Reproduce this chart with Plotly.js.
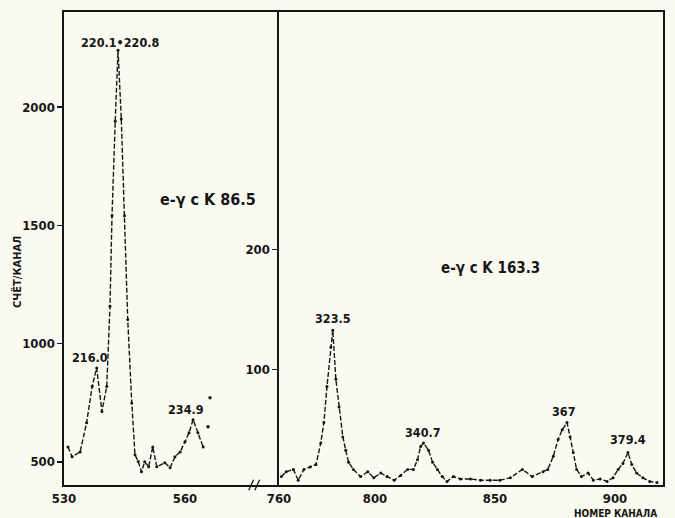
<!DOCTYPE html>
<html>
<head>
<meta charset="utf-8">
<script src="https://cdn.plot.ly/plotly-3.0.1.min.js"></script>
<style>
html,body{margin:0;padding:0;background:#fbfaf1;}
#chart{width:675px;height:518px;}
</style>
</head>
<body>
<div id="chart"></div>
<script>
// ---- data ----
// left panel: e-γ coincidence with K 86.5
const leftX = [531, 532, 534, 535.6, 537, 538.1, 539.4, 540.6, 541.4, 541.9, 542.7, 543.4, 544.2, 545.0, 545.8, 546.8, 547.6, 548.4, 549.2, 550, 551, 552, 553, 555, 556.3, 557.5, 558.8, 560, 561, 562, 563.2, 564.5];
const leftY = [563, 521, 542, 665, 820, 897, 713, 819, 1158, 1540, 1940, 2240, 1950, 1540, 1102, 749, 530, 501, 458, 500, 479, 563, 479, 496, 475, 521, 542, 585, 623, 678, 623, 563];
const leftStrayX = [565.7, 566.2];
const leftStrayY = [648, 771];

// right panel: e-γ coincidence with K 163.3
const rightX = [761, 763, 766, 768, 770.4, 773, 775.4, 777.4, 778.7, 780, 781.6, 782.4, 783.7, 785, 786.6, 787.8, 789, 791, 794, 797, 799.5, 802.4, 805, 808, 810.7, 813.6, 816, 817.7, 819, 820.2, 822.3, 824, 826, 828, 830, 832.7, 835.6, 839.8, 844, 848, 852, 856.4, 861.4, 865.5, 870, 872, 874.3, 876.3, 878, 880, 881.3, 882.6, 884, 886, 888.8, 891, 893.8, 896.7, 899.2, 901.3, 903.3, 905.4, 907, 909, 911.6, 914.5, 917.5];
const rightY = [11, 15, 17, 8, 17, 19, 21, 39, 56, 86, 119, 133, 92, 69, 44, 33, 23, 17, 11, 15, 10, 14, 11, 8, 12, 17, 17, 25, 36, 39, 33, 23, 17, 11, 7, 11, 9, 9, 8, 8, 8, 10, 17, 11, 15, 17, 28, 42, 50, 56, 44, 31, 17, 11, 14, 8, 9, 7, 10, 17, 22, 31, 21, 14, 10, 7, 6];

// peak labels (energies, keV)
const leftPeakLabels = ["220.1•220.8", "216.0", "234.9"];
const leftPeakX = [543.9, 536.5, 560.2];
const leftPeakY = [2275, 941, 720];
const rightPeakLabels = ["323.5", "340.7", "367", "379.4"];
const rightPeakX = [782.4, 820.0, 878.7, 905.4];
const rightPeakY = [143, 48, 65, 42];

const leftTicksX = [530, 560];
const rightTicksX = [760, 800, 850, 900];
const leftTicksY = [500, 1000, 1500, 2000];
const rightTicksY = [100, 200];

const gateLeft = "e-γ c K 86.5";
const gateRight = "e-γ c K 163.3";
const yTitle = "СЧЁТ/КАНАЛ";
const xTitle = "НОМЕР КАНАЛА";

// ---- styling ----
const FONT = "Liberation Sans Narrow, DejaVu Sans Condensed, Arial Narrow, sans-serif";
const INK = "#161616";
const BG = "#fbfaf1";

const lineStyle = {color: INK, width: 1.4, dash: "5px,2px"};
const markerStyle = {color: INK, size: 3};

const traces = [
  {x: leftX, y: leftY, xaxis: "x", yaxis: "y", mode: "lines+markers", line: lineStyle, marker: markerStyle, hoverinfo: "skip"},
  {x: leftStrayX, y: leftStrayY, xaxis: "x", yaxis: "y", mode: "markers", marker: {color: INK, size: 3.5}, hoverinfo: "skip"},
  {x: rightX, y: rightY, xaxis: "x2", yaxis: "y2", mode: "lines+markers", line: lineStyle, marker: markerStyle, hoverinfo: "skip"}
];

const tickFont = {family: FONT, size: 13, color: INK, weight: "bold"};
const domSplit = (279 - 64) / (663 - 64);

const annotations = [];
leftPeakLabels.forEach((t, i) => annotations.push({
  text: t, x: leftPeakX[i], y: leftPeakY[i], xref: "x", yref: "y",
  showarrow: false, font: {family: FONT, size: 12.5, color: INK, weight: "bold"}
}));
rightPeakLabels.forEach((t, i) => annotations.push({
  text: t, x: rightPeakX[i], y: rightPeakY[i], xref: "x2", yref: "y2",
  showarrow: false, font: {family: FONT, size: 12.5, color: INK, weight: "bold"}
}));
annotations.push({text: gateLeft, x: 565.7, y: 1610, xref: "x", yref: "y", showarrow: false,
  font: {family: FONT, size: 16, color: INK, weight: "bold"}});
annotations.push({text: gateRight, x: 848, y: 185, xref: "x2", yref: "y2", showarrow: false,
  font: {family: FONT, size: 15, color: INK, weight: "bold"}});
annotations.push({text: yTitle, x: (17 - 64) / 599, y: (485 - 272) / 473, xref: "paper", yref: "paper",
  textangle: -90, showarrow: false, xanchor: "center", yanchor: "middle",
  font: {family: FONT, size: 11, color: INK, weight: "bold"}});
annotations.push({text: xTitle, x: (572 - 64) / 599, y: (485 - 513) / 473, xref: "paper", yref: "paper",
  showarrow: false, xanchor: "left", yanchor: "middle",
  font: {family: FONT, size: 10, color: INK, weight: "bold"}});

const shapes = [
  {type: "line", xref: "x", yref: "paper", x0: 575.8, x1: 577.0, y0: -0.011, y1: 0.011, line: {color: INK, width: 1.3}},
  {type: "line", xref: "x", yref: "paper", x0: 577.3, x1: 578.5, y0: -0.011, y1: 0.011, line: {color: INK, width: 1.3}}
];

const layout = {
  width: 675, height: 518,
  margin: {l: 64, r: 12, t: 12, b: 33},
  paper_bgcolor: BG, plot_bgcolor: BG,
  showlegend: false,
  xaxis: {domain: [0, domSplit], range: [530, 583.3], tickvals: leftTicksX, ticktext: leftTicksX.map(String),
    showgrid: false, zeroline: false, showline: true, mirror: true, linecolor: INK, linewidth: 1.6,
    ticks: "outside", ticklen: 1, tickcolor: "rgba(0,0,0,0)", tickfont: tickFont, anchor: "y", fixedrange: true},
  yaxis: {domain: [0, 1], range: [402, 2402], tickvals: leftTicksY, ticktext: leftTicksY.map(String),
    showgrid: false, zeroline: false, showline: true, linecolor: INK, linewidth: 1.6,
    ticks: "outside", ticklen: 5, tickwidth: 1.4, tickcolor: INK, tickfont: tickFont, anchor: "x", fixedrange: true},
  xaxis2: {domain: [domSplit, 1], range: [760, 920], tickvals: rightTicksX, ticktext: rightTicksX.map(String),
    showgrid: false, zeroline: false, showline: true, mirror: true, linecolor: INK, linewidth: 1.6,
    ticks: "outside", ticklen: 1, tickcolor: "rgba(0,0,0,0)", tickfont: tickFont, anchor: "y2", fixedrange: true},
  yaxis2: {domain: [0, 1], range: [4, 398], tickvals: rightTicksY, ticktext: rightTicksY.map(String),
    showgrid: false, zeroline: false, showline: true, mirror: true, linecolor: INK, linewidth: 1.6,
    ticks: "outside", ticklen: 5, tickwidth: 1.4, tickcolor: INK, tickfont: tickFont, anchor: "x2", fixedrange: true},
  annotations: annotations,
  shapes: shapes
};

Plotly.newPlot("chart", traces, layout, {displayModeBar: false, staticPlot: true});
</script>
</body>
</html>
